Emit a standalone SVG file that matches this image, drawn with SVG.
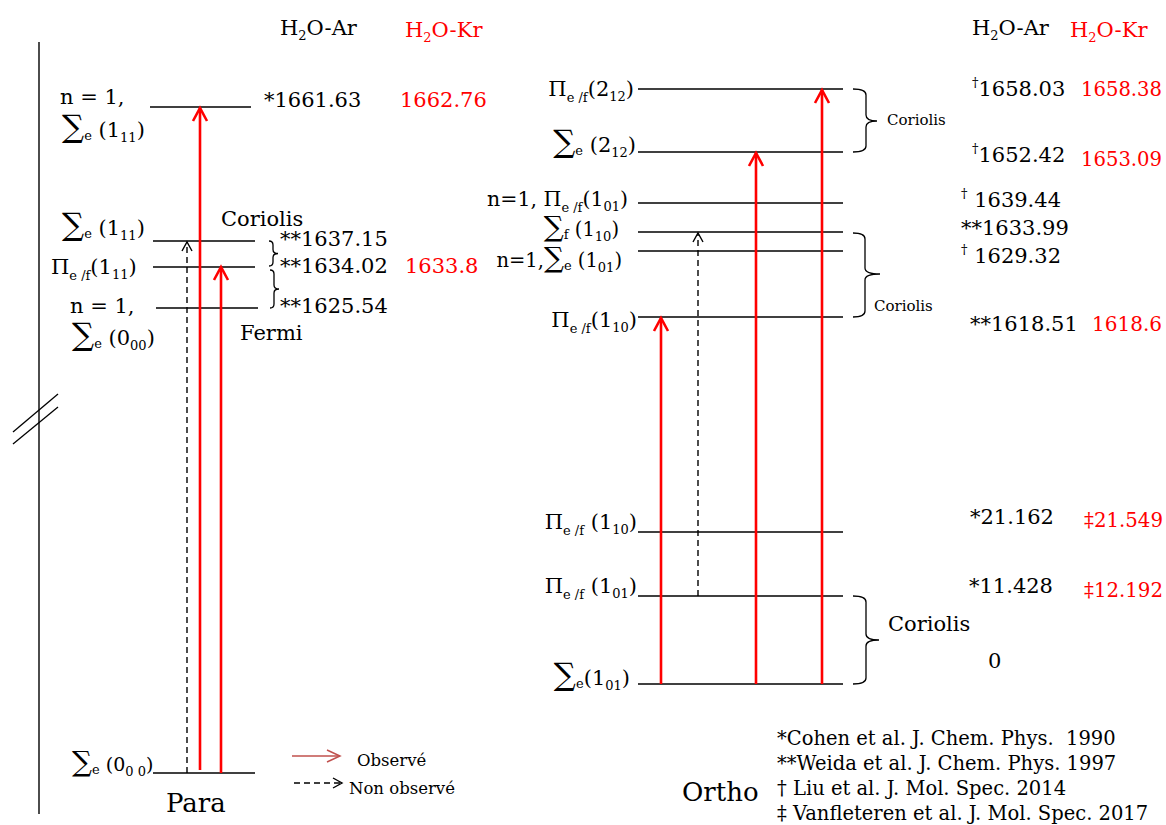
<svg xmlns="http://www.w3.org/2000/svg" width="1166" height="825" viewBox="0 0 1166 825" font-family="'DejaVu Serif', serif">
<style>
text{font-family:'DejaVu Serif',serif;font-size:21px;fill:#000}
.r{fill:#ff0000}
.s{font-size:13px}
.sm{font-size:15px}
.ref{font-size:19.5px}
.big{font-size:26px}
.leg{font-size:16.5px}
.sig{font-size:31px}
.sig2{font-size:28px}
.re{font-size:20px}
.lv{stroke:#000;stroke-width:1.3;fill:none}
.br{stroke:#000;stroke-width:1.3;fill:none}
.ra{stroke:#ff0000;stroke-width:2.6;fill:none;marker-end:url(#mr)}
.da{stroke:#000;stroke-width:1.4;fill:none;stroke-dasharray:6 4;marker-end:url(#md)}
</style>
<defs>
<marker id="mr" markerUnits="userSpaceOnUse" orient="auto" markerWidth="20" markerHeight="20" refX="0" refY="0" viewBox="-14 -10 16 20" overflow="visible">
<path d="M-13,-7 L0,0 L-13,7" fill="none" stroke="#ff0000" stroke-width="2.6"/>
</marker>
<marker id="md" markerUnits="userSpaceOnUse" orient="auto" markerWidth="20" markerHeight="20" refX="0" refY="0" viewBox="-14 -10 16 20" overflow="visible">
<path d="M-9,-5 L0,0 L-9,5" fill="none" stroke="#000" stroke-width="1.4"/>
</marker>
<marker id="ml" markerUnits="userSpaceOnUse" orient="auto" markerWidth="20" markerHeight="20" refX="0" refY="0" viewBox="-14 -10 16 20" overflow="visible">
<path d="M-13,-6 L0,0 L-13,6" fill="none" stroke="#c0504d" stroke-width="1.5"/>
</marker>
</defs>

<!-- axis with break -->
<g id="axis">
<line x1="39" y1="42" x2="39" y2="814" stroke="#000" stroke-width="1.4"/>
<line x1="13" y1="432" x2="58" y2="394" stroke="#000" stroke-width="1.3"/>
<line x1="13" y1="444" x2="58" y2="407" stroke="#000" stroke-width="1.3"/>
</g>

<!-- headers -->
<g id="headers">
<text x="280" y="35">H<tspan class="s" dy="5">2</tspan><tspan dy="-5">O-Ar</tspan></text>
<text class="r" x="405" y="37">H<tspan class="s" dy="5">2</tspan><tspan dy="-5">O-Kr</tspan></text>
<text x="972" y="35">H<tspan class="s" dy="5">2</tspan><tspan dy="-5">O-Ar</tspan></text>
<text class="r" x="1070" y="37">H<tspan class="s" dy="5">2</tspan><tspan dy="-5">O-Kr</tspan></text>
</g>

<!-- PARA levels -->
<g id="p-top">
<line class="lv" x1="150" y1="107" x2="251" y2="107"/>
<text x="60" y="104" xml:space="preserve">n = 1,</text>
<text x="62" y="137"><tspan class="sig">∑</tspan><tspan class="s" dy="3">e</tspan><tspan dy="-3"> (1</tspan><tspan class="s" dy="5">11</tspan><tspan dy="-5">)</tspan></text>
<text x="264" y="107">*1661.63</text>
<text class="r" x="400" y="107">1662.76</text>
</g>
<g id="p-sig111">
<line class="lv" x1="153" y1="241" x2="255" y2="241"/>
<text x="62" y="235"><tspan class="sig">∑</tspan><tspan class="s" dy="3">e</tspan><tspan dy="-3"> (1</tspan><tspan class="s" dy="5">11</tspan><tspan dy="-5">)</tspan></text>
<text x="280" y="246">**1637.15</text>
</g>
<g id="p-pi111">
<line class="lv" x1="153" y1="267" x2="255" y2="267"/>
<text x="51" y="274">Π<tspan class="s" dy="6">e /f</tspan><tspan dy="-6">(1</tspan><tspan class="s" dy="5">11</tspan><tspan dy="-5">)</tspan></text>
<text x="280" y="273">**1634.02</text>
<text class="r" x="405" y="273">1633.8</text>
</g>
<g id="p-n1">
<line class="lv" x1="156" y1="308" x2="258" y2="308"/>
<text x="70" y="313" xml:space="preserve">n = 1,</text>
<text x="72" y="345"><tspan class="sig">∑</tspan><tspan class="s" dy="3">e</tspan><tspan dy="-3"> (0</tspan><tspan class="s" dy="5">00</tspan><tspan dy="-5">)</tspan></text>
<text x="280" y="313">**1625.54</text>
</g>
<g id="p-ground">
<line class="lv" x1="153" y1="773" x2="255" y2="773"/>
<text x="72" y="771" style="font-size:19px"><tspan class="sig2">∑</tspan><tspan class="s" dy="3">e</tspan><tspan dy="-3"> (0</tspan><tspan class="s" dy="5" xml:space="preserve">0 0</tspan><tspan dy="-5">)</tspan></text>
<text class="big" x="166" y="812">Para</text>
</g>
<g id="p-braces">
<path class="br" d="M269,241 Q273,241 273,245 L273,249.5 Q273,253.5 278,253.5 Q273,253.5 273,257.5 L273,262 Q273,266 269,266"/>
<path class="br" d="M270,270 Q274,270 274,274 L274,285 Q274,289 279,289 Q274,289 274,293 L274,304 Q274,308 270,308"/>
<text x="221" y="226">Coriolis</text>
<text x="240" y="340">Fermi</text>
</g>

<!-- ORTHO levels -->
<g id="o-pi212">
<line class="lv" x1="638" y1="89" x2="843" y2="89"/>
<text x="634" y="96" text-anchor="end">Π<tspan class="s" dy="6">e /f</tspan><tspan dy="-6">(2</tspan><tspan class="s" dy="5">12</tspan><tspan dy="-5">)</tspan></text>
<text x="972" y="96"><tspan class="s" dy="-9">†</tspan><tspan dy="9">1658.03</tspan></text>
<text class="r re" x="1081" y="96" textLength="81" lengthAdjust="spacingAndGlyphs">1658.38</text>
</g>
<g id="o-sig212">
<line class="lv" x1="638" y1="152" x2="843" y2="152"/>
<text x="636" y="152" text-anchor="end"><tspan class="sig">∑</tspan><tspan class="s" dy="3">e</tspan><tspan dy="-3"> (2</tspan><tspan class="s" dy="5">12</tspan><tspan dy="-5">)</tspan></text>
<text x="972" y="162"><tspan class="s" dy="-9">†</tspan><tspan dy="9">1652.42</tspan></text>
<text class="r re" x="1081" y="166" textLength="81" lengthAdjust="spacingAndGlyphs">1653.09</text>
</g>
<g id="o-pi101n1">
<line class="lv" x1="638" y1="203" x2="843" y2="203"/>
<text x="628" y="206" text-anchor="end" style="font-size:20.5px">n=1, Π<tspan class="s" dy="6">e /f</tspan><tspan dy="-6">(1</tspan><tspan class="s" dy="5">01</tspan><tspan dy="-5">)</tspan></text>
<text x="961" y="207"><tspan class="s" dy="-9">†</tspan><tspan dy="9" xml:space="preserve"> 1639.44</tspan></text>
</g>
<g id="o-sigf110">
<line class="lv" x1="638" y1="232" x2="843" y2="232"/>
<text x="619" y="236" text-anchor="end" style="font-size:19.5px"><tspan class="sig2">∑</tspan><tspan class="s" dy="3">f</tspan><tspan dy="-3"> (1</tspan><tspan class="s" dy="5">10</tspan><tspan dy="-5">)</tspan></text>
<text x="961" y="235">**1633.99</text>
</g>
<g id="o-sige101n1">
<line class="lv" x1="638" y1="251" x2="843" y2="251"/>
<text x="622" y="267" text-anchor="end" style="font-size:19.5px">n=1,<tspan class="sig2">∑</tspan><tspan class="s" dy="3">e</tspan><tspan dy="-3"> (1</tspan><tspan class="s" dy="5">01</tspan><tspan dy="-5">)</tspan></text>
<text x="961" y="263"><tspan class="s" dy="-9">†</tspan><tspan dy="9" xml:space="preserve"> 1629.32</tspan></text>
</g>
<g id="o-pi110a">
<line class="lv" x1="638" y1="317" x2="843" y2="317"/>
<text x="637" y="327" text-anchor="end">Π<tspan class="s" dy="6">e /f</tspan><tspan dy="-6">(1</tspan><tspan class="s" dy="5">10</tspan><tspan dy="-5">)</tspan></text>
<text x="970" y="331">**1618.51</text>
<text class="r re" x="1092" y="331" textLength="70" lengthAdjust="spacingAndGlyphs">1618.6</text>
</g>
<g id="o-pi110">
<line class="lv" x1="638" y1="532" x2="843" y2="532"/>
<text x="637" y="529" text-anchor="end">Π<tspan class="s" dy="6">e /f</tspan><tspan dy="-6"> (1</tspan><tspan class="s" dy="5">10</tspan><tspan dy="-5">)</tspan></text>
<text x="970" y="524">*21.162</text>
<text class="r re" x="1084" y="527" textLength="79" lengthAdjust="spacingAndGlyphs">‡21.549</text>
</g>
<g id="o-pi101">
<line class="lv" x1="638" y1="596" x2="843" y2="596"/>
<text x="637" y="593" text-anchor="end">Π<tspan class="s" dy="6">e /f</tspan><tspan dy="-6"> (1</tspan><tspan class="s" dy="5">01</tspan><tspan dy="-5">)</tspan></text>
<text x="969" y="593">*11.428</text>
<text class="r re" x="1084" y="597" textLength="79" lengthAdjust="spacingAndGlyphs">‡12.192</text>
</g>
<g id="o-sige101">
<line class="lv" x1="638" y1="684" x2="843" y2="684"/>
<text x="630" y="685" text-anchor="end"><tspan class="sig">∑</tspan><tspan class="s" dy="3">e</tspan><tspan dy="-3">(1</tspan><tspan class="s" dy="5">01</tspan><tspan dy="-5">)</tspan></text>
<text x="988" y="668">0</text>
<text class="big" x="682" y="801">Ortho</text>
</g>
<g id="o-braces">
<path class="br" d="M853,89 Q866,89 866,95 L866,115 Q866,121 877,121 Q866,121 866,127 L866,146 Q866,152 853,152"/>
<text class="sm" x="887" y="125">Coriolis</text>
<path class="br" d="M853,233 Q865,233 865,239 L865,268 Q865,274 880,274 Q865,274 865,280 L865,311 Q865,317 853,317"/>
<text class="sm" x="874" y="311">Coriolis</text>
<path class="br" d="M853,596 Q866,596 866,602 L866,634 Q866,640 879,640 Q866,640 866,646 L866,678 Q866,684 853,684"/>
<text x="888" y="631">Coriolis</text>
</g>

<!-- references -->
<g id="refs">
<text class="ref" x="777" y="745" xml:space="preserve">*Cohen et al. J. Chem. Phys.  1990</text>
<text class="ref" x="777" y="770">**Weida et al. J. Chem. Phys. 1997</text>
<text class="ref" x="777" y="795">† Liu et al. J. Mol. Spec. 2014</text>
<text class="ref" x="777" y="820">‡ Vanfleteren et al. J. Mol. Spec. 2017</text>
</g>

<!-- legend -->
<g id="legend">
<line x1="292" y1="756" x2="340" y2="756" stroke="#c0504d" stroke-width="1.5" marker-end="url(#ml)"/>
<text class="leg" x="357" y="766">Observé</text>
<line x1="294" y1="783" x2="342" y2="783" stroke="#000" stroke-width="1.4" stroke-dasharray="6 4" marker-end="url(#md)"/>
<text class="leg" x="349" y="794">Non observé</text>
</g>

<!-- connectors -->
<g id="connectors">
<line class="ra" x1="200" y1="770" x2="200" y2="108"/>
<line class="ra" x1="221" y1="773" x2="221" y2="267"/>
<line class="da" x1="187" y1="773" x2="187" y2="242"/>
<line class="ra" x1="661" y1="684" x2="661" y2="318"/>
<line class="da" x1="698" y1="596" x2="698" y2="233"/>
<line class="ra" x1="756" y1="684" x2="756" y2="153"/>
<line class="ra" x1="822" y1="684" x2="822" y2="90"/>
</g>
</svg>
